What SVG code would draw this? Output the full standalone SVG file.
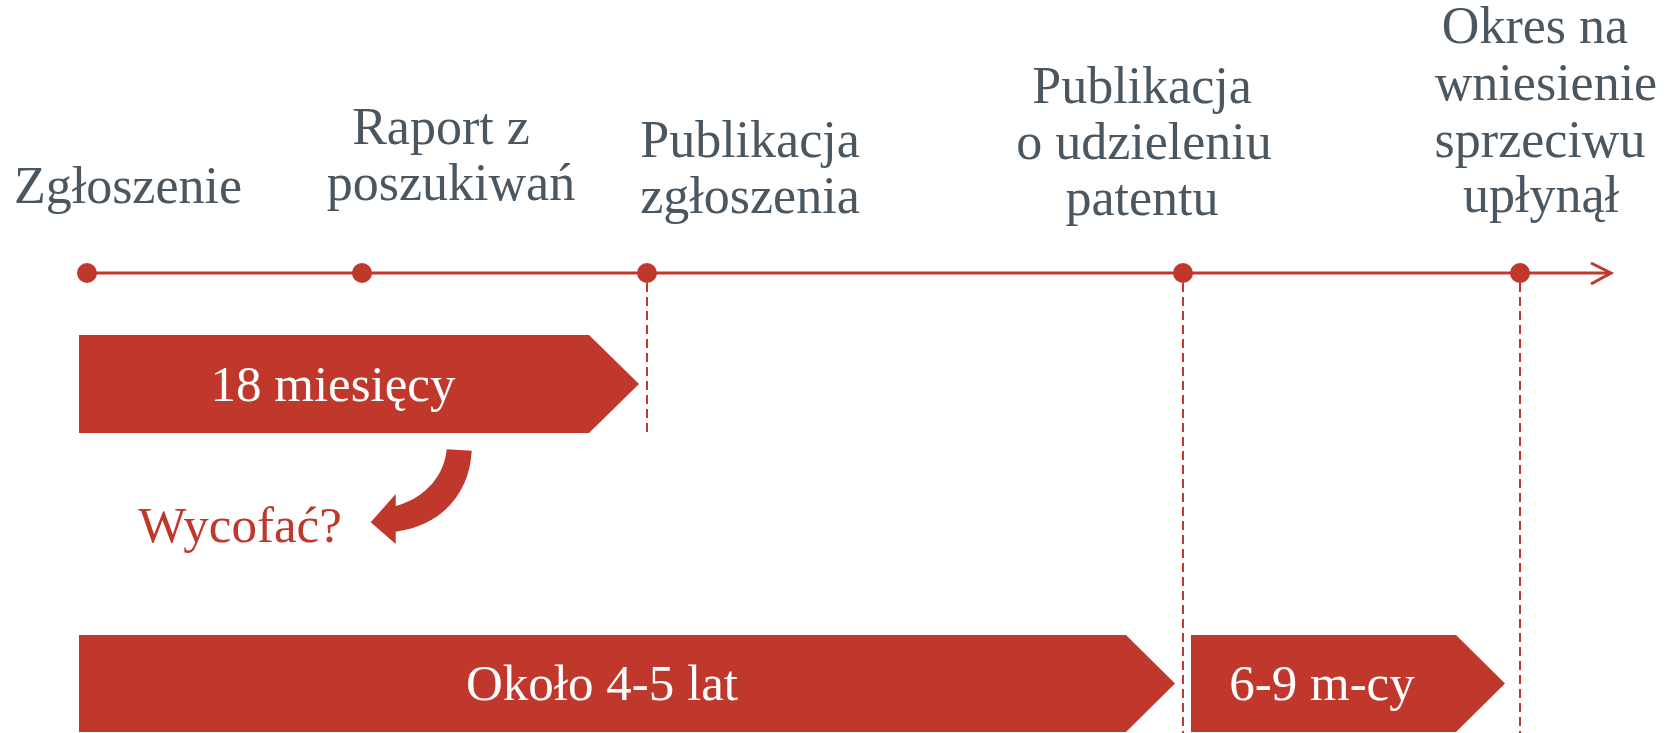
<svg xmlns="http://www.w3.org/2000/svg" width="1676" height="733" viewBox="0 0 1676 733">
<style>
.lbl{font-family:"Liberation Serif","Times New Roman",serif;font-size:52px;fill:#4a5660;text-anchor:middle}
.box{fill:#c0372c}
.btxt{font-family:"Liberation Serif","Times New Roman",serif;font-size:51px;fill:#ffffff;text-anchor:middle}
.dot{fill:#c0372c}
.dash{stroke:#c0372c;stroke-width:2;stroke-dasharray:9 5;fill:none}
</style>
<rect width="1676" height="733" fill="#ffffff"/>
<g id="connectors">
<line x1="87" y1="273" x2="1610" y2="273" stroke="#c0372c" stroke-width="3"/>
<polyline points="1591,263 1611,273 1591,284" fill="none" stroke="#c0372c" stroke-width="3"/>
<line class="dash" x1="647" y1="283" x2="647" y2="434"/>
<line class="dash" x1="1183" y1="283" x2="1183" y2="733"/>
<line class="dash" x1="1520" y1="283" x2="1520" y2="733"/>
</g>
<g id="n-zgloszenie">
<circle class="dot" cx="87" cy="273" r="10"/>
<text class="lbl" x="128" y="203">Zgłoszenie</text>
</g>
<g id="n-raport">
<circle class="dot" cx="362" cy="273" r="10"/>
<text class="lbl" x="441" y="144">Raport z</text>
<text class="lbl" x="451" y="200">poszukiwań</text>
</g>
<g id="n-publikacja-zgl">
<circle class="dot" cx="647" cy="273" r="10"/>
<text class="lbl" x="750" y="157">Publikacja</text>
<text class="lbl" x="750" y="213">zgłoszenia</text>
</g>
<g id="n-publikacja-pat">
<circle class="dot" cx="1183" cy="273" r="10"/>
<text class="lbl" x="1142" y="103">Publikacja</text>
<text class="lbl" x="1144" y="159">o udzieleniu</text>
<text class="lbl" x="1142" y="215">patentu</text>
</g>
<g id="n-sprzeciw">
<circle class="dot" cx="1520" cy="273" r="10"/>
<text class="lbl" x="1535" y="43">Okres na</text>
<text class="lbl" x="1546" y="100">wniesienie</text>
<text class="lbl" x="1540" y="157">sprzeciwu</text>
<text class="lbl" x="1541" y="212">upłynął</text>
</g>
<g id="p-18">
<polygon class="box" points="79,335 589,335 639,384 589,433 79,433"/>
<text class="btxt" x="333" y="401">18 miesięcy</text>
</g>
<g id="p-wycofac">
<path class="box" d="M446.7,449.3 L471.7,450.7 C470,490 445,525 395.7,531.7 L395.7,544 L370.7,522.3 L395.7,494 L395.7,506 C420,500 444,480 446.7,449.3 Z"/>
<text x="240" y="542" style="font-family:'Liberation Serif','Times New Roman',serif;font-size:51px;fill:#c0372c;text-anchor:middle">Wycofać?</text>
</g>
<g id="p-45">
<polygon class="box" points="79,635 1126,635 1175,683.5 1126,732 79,732"/>
<text class="btxt" x="602" y="700">Około 4-5 lat</text>
</g>
<g id="p-69">
<polygon class="box" points="1191,635 1456,635 1505,683.5 1456,732 1191,732"/>
<text class="btxt" x="1322" y="700">6-9 m-cy</text>
</g>
</svg>
